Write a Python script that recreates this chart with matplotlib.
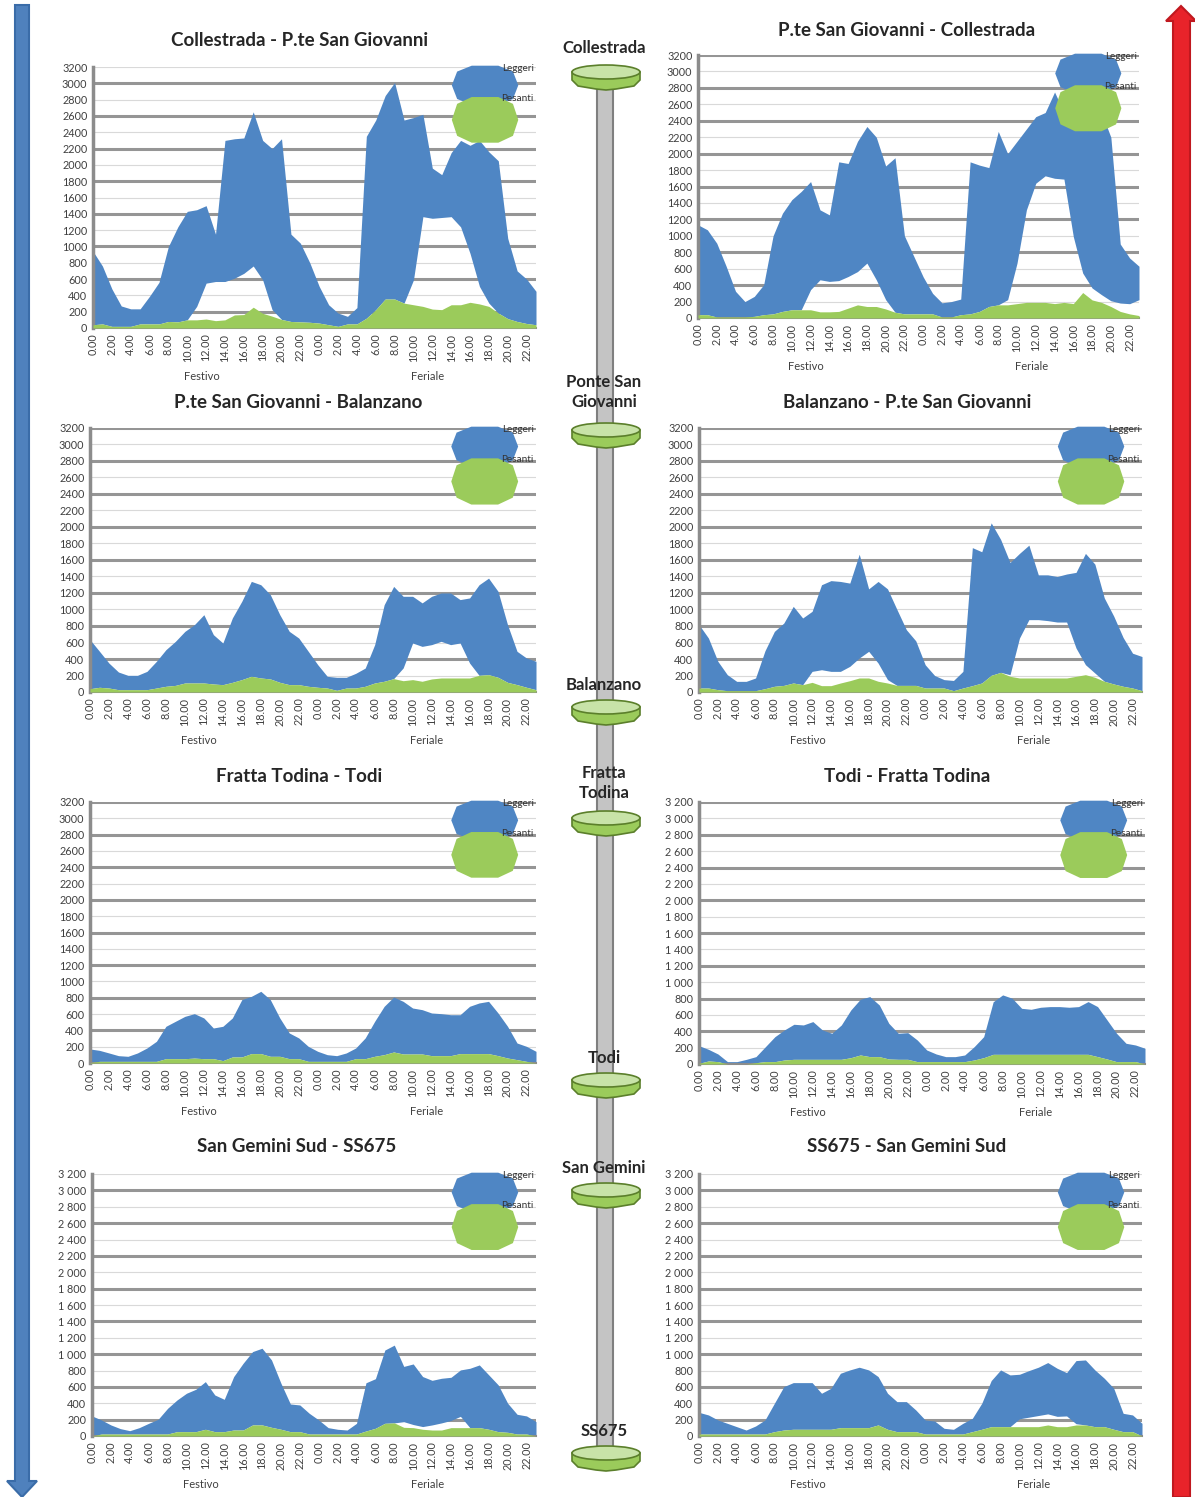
import matplotlib
matplotlib.use("Agg")
import matplotlib.pyplot as plt
from matplotlib.patches import Polygon, Ellipse, Rectangle
import numpy as np

plt.rcParams["font.family"] = ["Lato", "DejaVu Sans"]

OUTPUT = "out.png"
W, H = 1195, 1497

BLUE = "#4F86C4"
GREEN = "#9BCB5B"
GRID = "#959595"
TEXT = "#404040"

HOURS = ["0.00", "2.00", "4.00", "6.00", "8.00", "10.00",
         "12.00", "14.00", "16.00", "18.00", "20.00", "22.00"]
DAYS = ["Festivo", "Feriale"]
SERIES = ["Leggeri", "Pesanti"]

TITLES = [
    "Collestrada - P.te San Giovanni",
    "P.te San Giovanni - Collestrada",
    "P.te San Giovanni - Balanzano",
    "Balanzano - P.te San Giovanni",
    "Fratta Todina - Todi",
    "Todi - Fratta Todina",
    "San Gemini Sud - SS675",
    "SS675 - San Gemini Sud",
]

STATIONS = ["Collestrada", "Ponte San\nGiovanni", "Balanzano",
            "Fratta\nTodina", "Todi", "San Gemini", "SS675"]

# hourly values, 24 festivo + 24 feriale
# *_LEGG: top of the blue area, *_GAP: lower edge of the blue band where it
# leaves a white gap (0 = none), *_PES: green area
COLL_PSG_LEGG = [940, 760, 480, 270, 235, 235, 390, 560, 1000, 1240, 1430, 1450,
                 1500, 1150, 2300, 2320, 2330, 2650, 2300, 2200, 2320, 1150, 1040, 800,
                 510, 285, 183, 143, 250, 2350, 2550, 2850, 3010, 2550, 2580, 2620,
                 1960, 1880, 2150, 2300, 2240, 2300, 2160, 2050, 1100, 700, 600, 450]
COLL_PSG_GAP = [0, 0, 0, 0, 0, 0, 0, 0, 0, 0, 0, 265,
                550, 570, 570, 610, 670, 760, 590, 225, 0, 0, 0, 0,
                0, 0, 0, 0, 0, 0, 0, 0, 0, 225, 590, 1365,
                1345, 1355, 1365, 1240, 915, 510, 305, 183, 0, 0, 0, 0]
COLL_PSG_PES = [40, 50, 20, 20, 20, 50, 50, 50, 80, 75, 100, 100,
                110, 90, 100, 160, 165, 255, 180, 145, 105, 80, 75, 70,
                60, 40, 20, 50, 50, 120, 225, 355, 355, 305, 285, 265,
                232, 225, 285, 285, 315, 295, 265, 183, 115, 80, 55, 40]

PSG_COLL_LEGG = [1134, 1073, 910, 630, 325, 200, 263, 405, 1000, 1275, 1440, 1540,
                 1660, 1316, 1255, 1900, 1880, 2150, 2330, 2200, 1850, 1950, 1000, 750,
                 500, 300, 185, 200, 230, 1900, 1860, 1830, 2270, 2000, 2150, 2300,
                 2450, 2500, 2750, 2500, 2500, 2500, 2500, 2500, 2200, 900, 730, 630]
PSG_COLL_GAP = [0, 0, 0, 0, 0, 0, 0, 0, 0, 0, 0, 0,
                345, 465, 445, 455, 505, 565, 668, 465, 223, 0, 0, 0,
                0, 0, 0, 0, 0, 0, 0, 0, 0, 223, 668, 1316,
                1640, 1730, 1700, 1690, 990, 547, 365, 284, 210, 182, 174, 223]
PSG_COLL_PES = [40, 40, 12, 12, 12, 12, 20, 40, 50, 80, 100, 100,
                100, 75, 75, 80, 120, 160, 140, 140, 110, 70, 50, 50,
                50, 50, 12, 12, 40, 50, 80, 140, 160, 160, 175, 190,
                190, 190, 175, 190, 175, 310, 220, 190, 140, 80, 50, 30]

PSG_BAL_LEGG = [634, 493, 350, 242, 202, 202, 250, 372, 513, 614, 735, 816,
                937, 695, 594, 897, 1100, 1341, 1300, 1180, 937, 735, 654, 493,
                331, 190, 178, 178, 226, 290, 574, 1058, 1280, 1160, 1160, 1080,
                1160, 1200, 1200, 1120, 1140, 1300, 1380, 1220, 816, 493, 412, 372]
PSG_BAL_GAP = [0] * 33 + [291, 594, 553, 574, 614, 574, 594, 351, 202, 0, 0, 0, 0, 0, 0]
PSG_BAL_PES = [40, 57, 48, 28, 28, 28, 28, 48, 69, 80, 109, 109,
               109, 97, 89, 117, 150, 190, 170, 158, 117, 89, 89, 69,
               57, 48, 20, 48, 48, 69, 109, 130, 162, 137, 150, 130,
               158, 170, 170, 170, 170, 202, 210, 178, 117, 89, 57, 28]

BAL_PSG_LEGG = [816, 654, 372, 210, 129, 129, 170, 500, 735, 836, 1038, 897,
                978, 1300, 1350, 1340, 1320, 1670, 1250, 1340, 1250, 1000, 755, 620,
                330, 200, 150, 140, 250, 1750, 1700, 2050, 1850, 1570, 1680, 1780,
                1420, 1420, 1400, 1430, 1450, 1680, 1550, 1140, 920, 660, 470, 430]
BAL_PSG_GAP = [0, 0, 0, 0, 0, 0, 0, 0, 0, 0, 0, 0,
               250, 270, 250, 250, 311, 412, 493, 351, 150, 0, 0, 0,
               0, 0, 0, 0, 0, 0, 0, 0, 0, 210, 654, 877,
               877, 865, 848, 848, 533, 331, 230, 0, 0, 0, 0, 0]
BAL_PSG_PES = [48, 48, 28, 16, 16, 16, 16, 40, 69, 80, 109, 89,
               117, 77, 77, 109, 137, 170, 170, 130, 109, 80, 80, 80,
               48, 48, 48, 16, 48, 77, 109, 202, 238, 190, 170, 170,
               170, 170, 170, 170, 190, 210, 178, 130, 97, 69, 48, 16]

FT_TODI_LEGG = [172, 155, 123, 90, 82, 123, 184, 266, 450, 511, 572, 605,
                552, 429, 450, 552, 777, 817, 879, 777, 552, 368, 307, 204,
                143, 102, 90, 123, 184, 307, 511, 695, 809, 756, 674, 654,
                613, 605, 592, 592, 695, 736, 756, 613, 450, 245, 204, 143]
FT_TODI_GAP = [0] * 48
FT_TODI_PES = [5, 20, 20, 20, 20, 20, 20, 20, 53, 53, 53, 60,
               53, 53, 29, 74, 74, 115, 115, 82, 82, 53, 53, 20,
               20, 20, 20, 20, 53, 53, 82, 102, 135, 110, 110, 110,
               90, 90, 90, 115, 115, 115, 115, 90, 61, 41, 20, 0]

TODI_FT_LEGG = [224, 179, 122, 29, 29, 57, 90, 212, 334, 416, 485, 477,
                518, 416, 375, 477, 660, 791, 823, 721, 497, 375, 383, 293,
                171, 122, 90, 90, 110, 212, 334, 760, 844, 803, 680, 668,
                693, 701, 701, 693, 701, 762, 701, 538, 375, 253, 232, 192]
TODI_FT_GAP = [0] * 48
TODI_FT_PES = [8, 37, 29, 0, 0, 0, 16, 29, 29, 49, 57, 57,
               57, 57, 57, 57, 77, 110, 90, 90, 61, 57, 57, 29,
               29, 29, 29, 29, 29, 49, 77, 118, 118, 118, 118, 118,
               118, 118, 118, 118, 118, 118, 90, 61, 29, 29, 29, 0]

SGS_SS_LEGG = [245, 196, 135, 90, 65, 102, 155, 204, 338, 440, 522, 571,
               664, 501, 448, 726, 889, 1031, 1072, 929, 644, 391, 379, 277,
               196, 102, 82, 73, 155, 650, 700, 1050, 1110, 850, 880, 726,
               680, 705, 717, 807, 827, 868, 746, 624, 400, 265, 245, 175]
SGS_SS_GAP = [0] * 33 + [175, 140, 115, 135, 160, 190, 240, 0, 0, 0, 0, 0, 0, 0, 0]
SGS_SS_PES = [0, 24, 24, 24, 24, 24, 24, 24, 24, 53, 53, 53,
              82, 53, 53, 73, 73, 135, 135, 106, 82, 53, 53, 24,
              24, 24, 24, 24, 24, 61, 94, 155, 160, 106, 102, 82,
              73, 73, 102, 102, 102, 102, 82, 53, 45, 24, 24, 0]

SS_SGS_LEGG = [289, 257, 196, 155, 114, 73, 122, 196, 400, 603, 652, 652,
               652, 522, 583, 766, 807, 840, 807, 726, 522, 420, 420, 318,
               196, 183, 94, 82, 155, 216, 400, 677, 807, 746, 754, 799,
               840, 897, 827, 774, 921, 929, 807, 705, 583, 277, 257, 155]
SS_SGS_GAP = [0] * 34 + [210, 230, 250, 270, 240, 245, 150, 0, 0, 0, 0, 0, 0, 0]
SS_SGS_PES = [24, 24, 24, 24, 24, 24, 24, 24, 53, 73, 82, 82,
              82, 82, 82, 102, 102, 102, 102, 135, 82, 53, 53, 53,
              24, 24, 24, 24, 24, 53, 82, 114, 114, 114, 114, 114,
              114, 135, 114, 114, 135, 135, 114, 114, 82, 53, 53, 0]

CHART_DATA = [
    (COLL_PSG_LEGG, COLL_PSG_GAP, COLL_PSG_PES),
    (PSG_COLL_LEGG, PSG_COLL_GAP, PSG_COLL_PES),
    (PSG_BAL_LEGG, PSG_BAL_GAP, PSG_BAL_PES),
    (BAL_PSG_LEGG, BAL_PSG_GAP, BAL_PSG_PES),
    (FT_TODI_LEGG, FT_TODI_GAP, FT_TODI_PES),
    (TODI_FT_LEGG, TODI_FT_GAP, TODI_FT_PES),
    (SGS_SS_LEGG, SGS_SS_GAP, SGS_SS_PES),
    (SS_SGS_LEGG, SS_SGS_GAP, SS_SGS_PES),
]

# layout in pixels: plot box (left, top, right, bottom) and title centre
BOXES = [(93, 67, 536, 328), (698, 55, 1139, 318),
         (90, 428, 536, 692), (699, 428, 1142, 692),
         (90, 802, 536, 1063), (699, 802, 1145, 1064),
         (92, 1174, 536, 1436), (699, 1174, 1142, 1436)]
TITLE_POS = [(300, 40), (907, 30), (298, 403), (907, 403),
             (299, 777), (907, 777), (297, 1147), (907, 1147)]
STATION_LABEL_Y = [48, 392, 685, 783, 1058, 1168, 1431]
STATION_DISC_Y = [77, 435, 712, 823, 1085, 1195, 1458]


def px_rect(left, top, right, bottom):
    return [left / W, 1 - bottom / H, (right - left) / W, (bottom - top) / H]


def ytick_label(v, spaced):
    if spaced and v >= 1000:
        return f"{v // 1000} {v % 1000:03d}"
    return str(v)


def legend_blob(ax, x0, x1, y0, y1, color):
    shape = [(0.0, 0.5), (0.08, 0.85), (0.3, 1.0), (0.7, 1.0), (0.92, 0.85),
             (1.0, 0.5), (0.92, 0.15), (0.7, 0.0), (0.3, 0.0), (0.08, 0.15)]
    pts = [(x0 + sx * (x1 - x0), y0 + sy * (y1 - y0)) for sx, sy in shape]
    ax.add_patch(Polygon(pts, closed=True, facecolor=color, edgecolor="none",
                         transform=ax.transAxes, clip_on=False, zorder=6))


def draw_chart(fig, idx):
    legg, gap, pes = (np.array(a, dtype=float) for a in CHART_DATA[idx])
    x = np.arange(len(legg))
    lower = np.maximum(gap, pes)

    ax = fig.add_axes(px_rect(*BOXES[idx]))
    thick_odd = idx in (0, 6, 7)
    for v in range(200, 3201, 200):
        odd = (v // 200) % 2 == 1
        if odd == thick_odd:
            ax.axhline(v, color=GRID, lw=2.2, zorder=0)
        else:
            ax.axhline(v, color="#d9d9d9", lw=0.8, zorder=0)

    ax.fill_between(x, lower, legg, color=BLUE, lw=0, zorder=2)
    ax.fill_between(x, 0, pes, color=GREEN, lw=0, zorder=3)

    ax.set_xlim(0, len(legg) - 1)
    ax.set_ylim(0, 3200)
    ax.set_xticks(np.arange(0, len(legg), 2))
    ax.set_xticklabels(HOURS * 2, rotation=90, fontsize=7.8, color=TEXT)
    yt = list(range(0, 3201, 200))
    ax.set_yticks(yt)
    ax.set_yticklabels([ytick_label(v, idx >= 5) for v in yt], fontsize=7.8, color=TEXT)
    ax.tick_params(length=0, pad=4)
    for side in ("top", "right"):
        ax.spines[side].set_visible(False)
    ax.spines["left"].set_color("#8c8c8c")
    ax.spines["left"].set_linewidth(2.5)
    ax.spines["bottom"].set_color("#8c8c8c")
    ax.spines["bottom"].set_linewidth(1.5)
    ax.set_facecolor("none")

    half = len(legg) / 2
    for k, day in enumerate(DAYS):
        ax.annotate(day, xy=(k * half + (half - 1) / 2, 0),
                    xycoords=("data", "axes fraction"), xytext=(0, -35),
                    textcoords="offset points", ha="center", va="center",
                    fontsize=8, color=TEXT)

    legend_blob(ax, 0.81, 0.96, 0.855, 1.005, BLUE)
    legend_blob(ax, 0.81, 0.96, 0.71, 0.885, GREEN)
    ax.text(0.995, 0.995, SERIES[0], transform=ax.transAxes, ha="right",
            va="center", fontsize=7.2, color="#333333", zorder=7)
    ax.text(0.995, 0.88, SERIES[1], transform=ax.transAxes, ha="right",
            va="center", fontsize=7.2, color="#333333", zorder=7)
    return ax


def draw_overlay(fig):
    ov = fig.add_axes([0, 0, 1, 1])
    ov.set_xlim(0, W)
    ov.set_ylim(H, 0)
    ov.axis("off")
    ov.set_facecolor("none")

    # direction arrows
    blue_arrow = [(15, 5), (29, 5), (29, 1481), (37, 1481), (22, 1497),
                  (7, 1481), (15, 1481)]
    ov.add_patch(Polygon(blue_arrow, closed=True, facecolor="#4F81BD",
                         edgecolor="#3A6CA8", lw=1.5))
    red_arrow = [(1181, 6), (1196, 21), (1190, 21), (1190, 1497), (1173, 1497),
                 (1173, 21), (1166, 21)]
    ov.add_patch(Polygon(red_arrow, closed=True, facecolor="#E8232A",
                         edgecolor="#C0181F", lw=1.5))

    # route bar and stations
    ov.add_patch(Rectangle((597, 80), 16, 1380, facecolor="#C4C4C4",
                           edgecolor="#7F7F7F", lw=1.5))
    cx = 606
    for name, ly, dy in zip(STATIONS, STATION_LABEL_Y, STATION_DISC_Y):
        body = [(cx - 34, dy - 5), (cx - 34, dy + 3), (cx - 28, dy + 9),
                (cx - 10, dy + 12), (cx, dy + 13), (cx + 10, dy + 12),
                (cx + 28, dy + 9), (cx + 34, dy + 3), (cx + 34, dy - 5)]
        ov.add_patch(Polygon(body, closed=True, facecolor=GREEN,
                             edgecolor="#5B7F2B", lw=1.2))
        ov.add_patch(Ellipse((cx, dy - 5), 68, 14, facecolor="#C8E3A8",
                             edgecolor="#5B7F2B", lw=1.2))
        ov.text(cx - 2, ly, name, ha="center", va="center", fontsize=12,
                fontweight="bold", color="#262626", linespacing=1.35)

    for title, (tx, ty) in zip(TITLES, TITLE_POS):
        ov.text(tx, ty, title, ha="center", va="center", fontsize=13.5,
                fontweight="bold", color="#262626")


def main():
    fig = plt.figure(figsize=(W / 100, H / 100), dpi=100)
    fig.patch.set_facecolor("white")
    for idx in range(len(CHART_DATA)):
        draw_chart(fig, idx)
    draw_overlay(fig)
    fig.savefig(OUTPUT, dpi=100)


if __name__ == "__main__":
    main()
